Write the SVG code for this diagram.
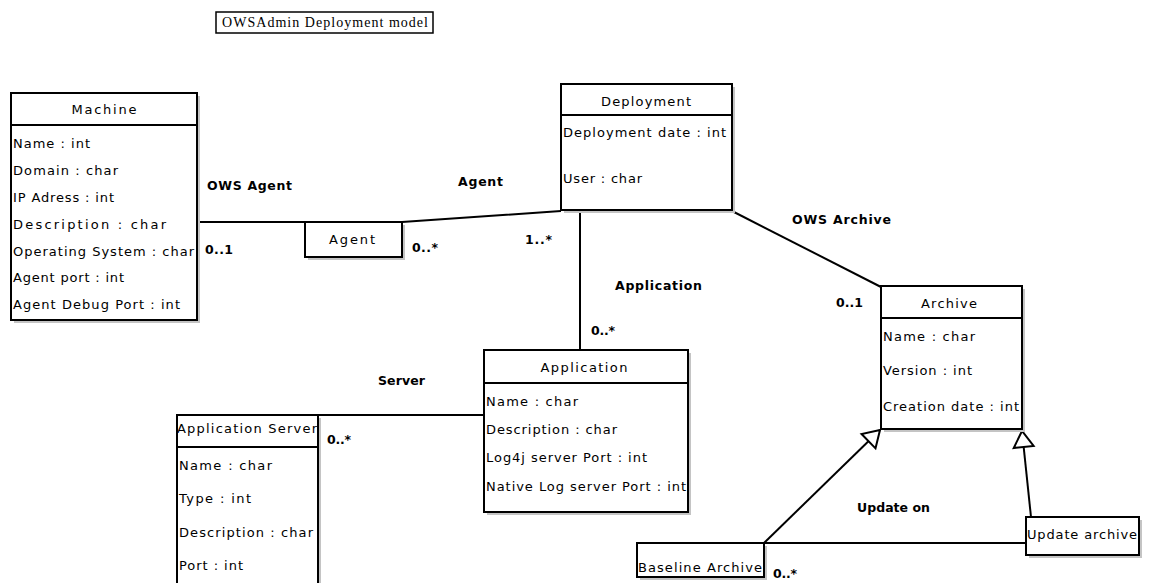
<svg xmlns="http://www.w3.org/2000/svg" width="1154" height="583" viewBox="0 0 1154 583">
<style>
.bg{fill:#ffffff}
.box{fill:#ffffff;stroke:#000000;stroke-width:2}
.sh{fill:#c4c4c4}
.sep{stroke:#000000;stroke-width:2}
.conn{fill:none;stroke:#000000;stroke-width:2}
.t{font-family:"DejaVu Sans","Liberation Sans",sans-serif;font-size:13px;fill:#000000}
.c{text-anchor:middle}
.b{font-family:"DejaVu Sans","Liberation Sans",sans-serif;font-size:12.5px;font-weight:bold;fill:#000000}
.title{font-family:"Liberation Serif","DejaVu Serif",serif;font-size:14px;fill:#000000}
</style>
<defs>
<marker id="gen" markerUnits="userSpaceOnUse" markerWidth="24" markerHeight="24" viewBox="-20 -12 24 24" refX="0" refY="0" orient="auto">
<path d="M0,0 L-16,-10 L-16,10 Z" fill="#ffffff" stroke="#000000" stroke-width="2" stroke-linejoin="miter"/>
</marker>
</defs>
<rect class="bg" x="0" y="0" width="1154" height="583"/>

<g id="title">
<rect x="216" y="12" width="217" height="21" fill="#ffffff" stroke="#000000" stroke-width="1.5"/>
<text class="title" x="222" y="27" textLength="206">OWSAdmin Deployment model</text>
</g>

<g id="connectors">
<polyline class="conn" points="197,222 402,222 561,211"/>
<line class="conn" x1="580" y1="211" x2="580" y2="350"/>
<line class="conn" x1="732" y1="211" x2="881" y2="287"/>
<line class="conn" x1="318" y1="415" x2="484" y2="415"/>
<line class="conn" x1="764" y1="543" x2="1026" y2="543"/>
<line class="conn" x1="764" y1="543" x2="880" y2="430" marker-end="url(#gen)"/>
<line class="conn" x1="1031" y1="517" x2="1022" y2="431" marker-end="url(#gen)"/>
</g>

<g id="machine">
<rect class="sh" x="14" y="96" width="186" height="227"/>
<rect class="box" x="11" y="93" width="186" height="227"/>
<line class="sep" x1="11" y1="125" x2="197" y2="125"/>
<text class="t c" x="104" y="114" textLength="65">Machine</text>
<text class="t" x="13" y="148" textLength="77">Name : int</text>
<text class="t" x="13" y="175" textLength="105">Domain : char</text>
<text class="t" x="13" y="202" textLength="101">IP Adress : int</text>
<text class="t" x="13" y="229" textLength="153">Description : char</text>
<text class="t" x="13" y="256" textLength="181">Operating System : char</text>
<text class="t" x="13" y="282" textLength="111">Agent port : int</text>
<text class="t" x="13" y="309" textLength="167">Agent Debug Port : int</text>
</g>

<g id="agent">
<rect class="sh" x="308" y="225" width="97" height="35"/>
<rect class="box" x="305" y="222" width="97" height="35"/>
<text class="t" x="329" y="244" textLength="46">Agent</text>
</g>

<g id="deployment">
<rect class="sh" x="564" y="87" width="171" height="126"/>
<rect class="box" x="561" y="84" width="171" height="126"/>
<line class="sep" x1="561" y1="115" x2="732" y2="115"/>
<text class="t c" x="646" y="106" textLength="90">Deployment</text>
<text class="t" x="563" y="137" textLength="163">Deployment date : int</text>
<text class="t" x="563" y="183" textLength="79">User : char</text>
</g>

<g id="application">
<rect class="sh" x="487" y="353" width="204" height="162"/>
<rect class="box" x="484" y="350" width="204" height="162"/>
<line class="sep" x1="484" y1="383" x2="688" y2="383"/>
<text class="t c" x="584" y="372" textLength="87">Application</text>
<text class="t" x="486" y="406" textLength="92">Name : char</text>
<text class="t" x="486" y="434" textLength="131">Description : char</text>
<text class="t" x="486" y="462" textLength="161">Log4j server Port : int</text>
<text class="t" x="486" y="491" textLength="200">Native Log server Port : int</text>
</g>

<g id="archive">
<rect class="sh" x="884" y="289" width="141" height="143"/>
<rect class="box" x="881" y="286" width="141" height="143"/>
<line class="sep" x1="881" y1="318" x2="1022" y2="318"/>
<text class="t c" x="949" y="308" textLength="56">Archive</text>
<text class="t" x="883" y="341" textLength="92">Name : char</text>
<text class="t" x="883" y="375" textLength="89">Version : int</text>
<text class="t" x="883" y="411" textLength="136">Creation date : int</text>
</g>

<g id="application-server">
<rect class="sh" x="180" y="418" width="141" height="180"/>
<rect class="box" x="177" y="415" width="141" height="180"/>
<line class="sep" x1="177" y1="447" x2="318" y2="447"/>
<text class="t" x="177" y="433" textLength="140">Application Server</text>
<text class="t" x="179" y="470" textLength="93">Name : char</text>
<text class="t" x="179" y="503" textLength="72">Type : int</text>
<text class="t" x="179" y="537" textLength="134">Description : char</text>
<text class="t" x="179" y="570" textLength="64">Port : int</text>
</g>

<g id="baseline-archive">
<rect class="sh" x="640" y="546" width="127" height="34"/>
<rect class="box" x="637" y="543" width="127" height="34"/>
<text class="t" x="638" y="572" textLength="124">Baseline Archive</text>
</g>

<g id="update-archive">
<rect class="sh" x="1029" y="520" width="113" height="38"/>
<rect class="box" x="1026" y="517" width="113" height="38"/>
<text class="t" x="1027" y="539" textLength="110">Update archive</text>
</g>

<g id="labels">
<text class="b" x="207" y="190" textLength="85">OWS Agent</text>
<text class="b" x="458" y="186" textLength="45">Agent</text>
<text class="b" x="205" y="254" textLength="28">0..1</text>
<text class="b" x="412" y="252" textLength="26">0..*</text>
<text class="b" x="525" y="244" textLength="27">1..*</text>
<text class="b" x="615" y="290" textLength="87">Application</text>
<text class="b" x="591" y="335" textLength="24">0..*</text>
<text class="b" x="792" y="224" textLength="99">OWS Archive</text>
<text class="b" x="836" y="307" textLength="27">0..1</text>
<text class="b" x="378" y="385" textLength="47">Server</text>
<text class="b" x="327" y="444" textLength="24">0..*</text>
<text class="b" x="857" y="512" textLength="73">Update on</text>
<text class="b" x="773" y="578" textLength="24">0..*</text>
</g>
</svg>
